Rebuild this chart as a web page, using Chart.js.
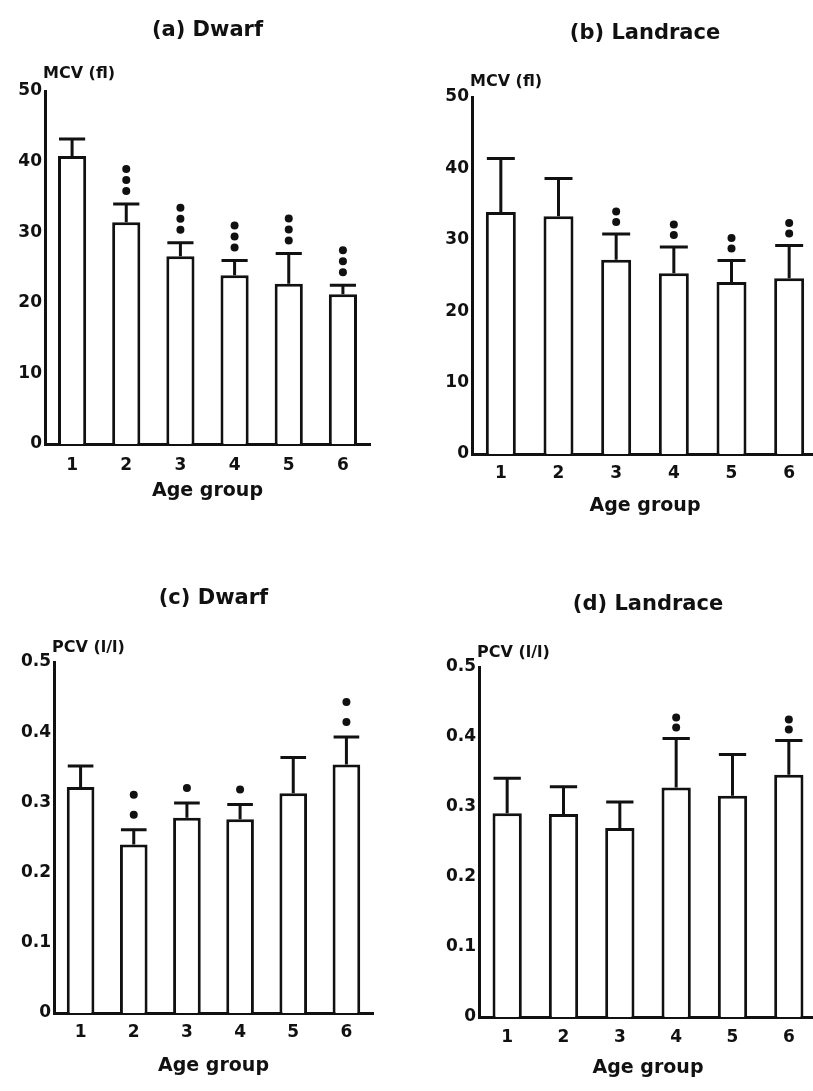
<!DOCTYPE html>
<html>
<head>
<meta charset="utf-8">
<script src="https://cdn.jsdelivr.net/npm/chart.js@4.4.1/dist/chart.umd.min.js"></script>
<style>
  html, body { margin: 0; padding: 0; background: #fff; overflow: hidden; }
  body { width: 813px; height: 1091px; position: relative; }
  canvas { position: absolute; }
</style>
</head>
<body>
<canvas id="chartA" width="400" height="540" style="left:0;top:0"></canvas>
<canvas id="chartB" width="420" height="540" style="left:400px;top:0"></canvas>
<canvas id="chartC" width="400" height="551" style="left:0;top:540px"></canvas>
<canvas id="chartD" width="420" height="551" style="left:400px;top:540px"></canvas>
<script>
// age groups on the x axis
const ageGroups = ["1", "2", "3", "4", "5", "6"];

// y axis ticks
const mcvTicks = [0, 10, 20, 30, 40, 50];
const pcvTicks = [0, 0.1, 0.2, 0.3, 0.4, 0.5];

// (a) Dwarf MCV: mean, top of error bar, number of significance dots
const mcvDwarf = [40.8, 31.4, 26.6, 23.9, 22.7, 21.2];
const mcvDwarfErr = [43.2, 34.0, 28.5, 26.0, 27.0, 22.5];
const mcvDwarfSig = [0, 3, 3, 3, 3, 3];

// (b) Landrace MCV
const mcvLandrace = [33.9, 33.3, 27.2, 25.3, 24.1, 24.6];
const mcvLandraceErr = [41.4, 38.6, 30.8, 29.0, 27.1, 29.2];
const mcvLandraceSig = [0, 0, 2, 2, 2, 2];

// (c) Dwarf PCV
const pcvDwarf = [0.322, 0.240, 0.278, 0.276, 0.313, 0.354];
const pcvDwarfErr = [0.352, 0.261, 0.299, 0.297, 0.364, 0.393];
const pcvDwarfSig = [0, 2, 1, 1, 0, 2];

// (d) Landrace PCV
const pcvLandrace = [0.291, 0.290, 0.270, 0.328, 0.316, 0.346];
const pcvLandraceErr = [0.341, 0.329, 0.307, 0.398, 0.375, 0.395];
const pcvLandraceSig = [0, 0, 0, 2, 0, 2];

const ink = "#111111";
const fam = "'DejaVu Sans', sans-serif";

// error bars, significance dots, panel title and unit label
function extras(p) {
  return {
    id: "extras",
    afterDatasetsDraw(chart) {
      const ctx = chart.ctx;
      const y = chart.scales.y;
      const meta = chart.getDatasetMeta(0);
      ctx.save();
      ctx.strokeStyle = ink;
      ctx.fillStyle = ink;
      ctx.lineWidth = 3;
      meta.data.forEach((bar, i) => {
        const top = y.getPixelForValue(p.err[i]);
        const half = (bar.width - 2) / 2;
        ctx.beginPath();
        ctx.moveTo(bar.x, bar.y);
        ctx.lineTo(bar.x, top);
        ctx.moveTo(bar.x - half, top);
        ctx.lineTo(bar.x + half, top);
        ctx.stroke();
        for (let k = 0; k < p.sig[i]; k++) {
          ctx.beginPath();
          ctx.arc(bar.x, top - p.gap0 - k * p.step, 4, 0, Math.PI * 2);
          ctx.fill();
        }
      });
      ctx.restore();
    },
    afterDraw(chart) {
      const ctx = chart.ctx;
      const a = chart.chartArea;
      ctx.save();
      ctx.fillStyle = ink;
      ctx.textBaseline = "middle";
      ctx.textAlign = "center";
      ctx.font = "bold 21px " + fam;
      ctx.fillText(p.title, (a.left + a.right) / 2, a.top + p.titleDy);
      ctx.textAlign = "left";
      ctx.font = "bold 16px " + fam;
      ctx.fillText(p.unit, a.left - 2, a.top + p.unitDy);
      ctx.restore();
    },
  };
}

function panel(id, values, ticks, p, box) {
  new Chart(document.getElementById(id), {
    type: "bar",
    data: {
      labels: ageGroups,
      datasets: [{
        data: values,
        backgroundColor: "#ffffff",
        borderColor: ink,
        borderWidth: 3,
        barPercentage: 0.52,
        categoryPercentage: 1.0,
      }],
    },
    options: {
      responsive: false,
      animation: false,
      layout: { padding: { top: box.top, right: box.right, bottom: box.bottom, left: 0 } },
      plugins: { legend: { display: false }, tooltip: { enabled: false } },
      scales: {
        x: {
          offset: true,
          grid: { display: false, drawTicks: false },
          border: { display: true, color: ink, width: 3 },
          ticks: { color: ink, padding: box.xPad, font: { family: fam, size: 17, weight: "bold" } },
          title: {
            display: true, text: "Age group", color: ink, padding: 0,
            font: { family: fam, size: 19, weight: "bold" },
          },
          afterFit: (s) => { s.height = box.xH; },
        },
        y: {
          min: ticks[0],
          max: ticks[ticks.length - 1],
          grid: { display: false, drawTicks: false },
          border: { display: true, color: ink, width: 3 },
          ticks: { color: ink, padding: 3, font: { family: fam, size: 17, weight: "bold" } },
          afterBuildTicks: (s) => { s.ticks = ticks.map((v) => ({ value: v })); },
          afterFit: (s) => { s.width = box.yW; },
        },
      },
    },
    plugins: [extras(p)],
  });
}

panel("chartA", mcvDwarf, mcvTicks,
  { err: mcvDwarfErr, sig: mcvDwarfSig, gap0: 13, step: 11, title: "(a) Dwarf", unit: "MCV (fl)", titleDy: -60, unitDy: -17 },
  { top: 91, right: 30, bottom: 38, yW: 45, xH: 58, xPad: 11 });

panel("chartB", mcvLandrace, mcvTicks,
  { err: mcvLandraceErr, sig: mcvLandraceSig, gap0: 12, step: 10.5, title: "(b) Landrace", unit: "MCV (fl)", titleDy: -63, unitDy: -15 },
  { top: 97, right: 2, bottom: 23, yW: 72, xH: 63, xPad: 9 });

panel("chartC", pcvDwarf, pcvTicks,
  { err: pcvDwarfErr, sig: pcvDwarfSig, gap0: 15, step: 20, title: "(c) Dwarf", unit: "PCV (l/l)", titleDy: -63, unitDy: -14 },
  { top: 122, right: 27, bottom: 14, yW: 54, xH: 64, xPad: 9 });

panel("chartD", pcvLandrace, pcvTicks,
  { err: pcvLandraceErr, sig: pcvLandraceSig, gap0: 11, step: 10, title: "(d) Landrace", unit: "PCV (l/l)", titleDy: -62, unitDy: -14 },
  { top: 127, right: 3, bottom: 12, yW: 79, xH: 62, xPad: 10 });
</script>
</body>
</html>
